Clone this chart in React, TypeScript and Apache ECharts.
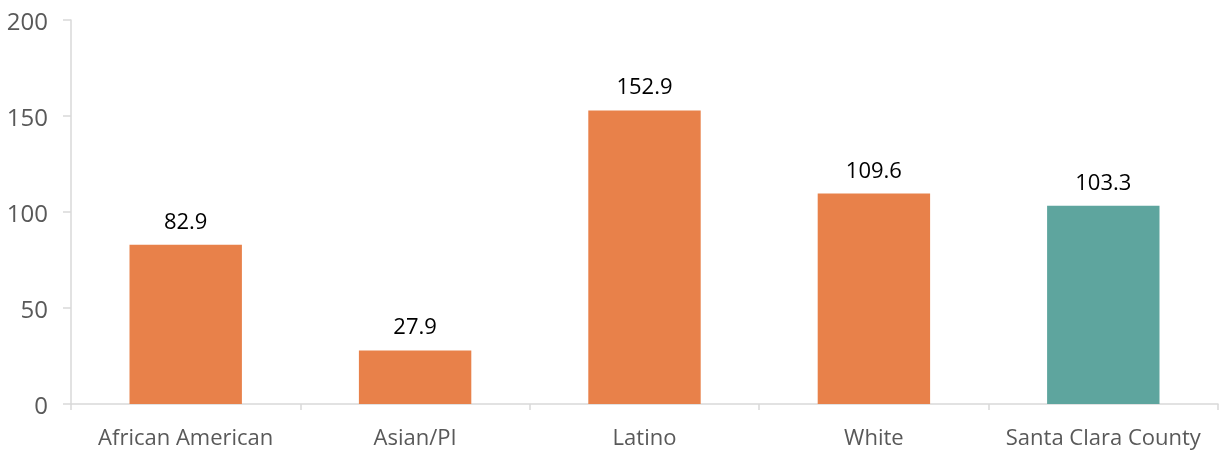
import React, { useEffect, useRef } from "react";
import * as echarts from "echarts";

const categories = ["African American", "Asian/PI", "Latino", "White", "Santa Clara County"];
const values = [82.9, 27.9, 152.9, 109.6, 103.3];
const barColors = ["#E8814A", "#E8814A", "#E8814A", "#E8814A", "#5EA59E"];
const yTicks = { min: 0, max: 200, interval: 50 };

export default function App() {
  const ref = useRef<HTMLDivElement>(null);
  useEffect(() => {
    if (!ref.current) return;
    const chart = echarts.init(ref.current, null, { renderer: "svg" });
    chart.setOption({
      animation: false,
      textStyle: { fontFamily: "Open Sans" },
      grid: { left: 71, right: 6, top: 20, bottom: 48, containLabel: false },
      xAxis: {
        type: "category",
        data: categories,
        axisLine: { show: true, lineStyle: { color: "#D9D9D9", width: 1.5 } },
        axisTick: { show: true, interval: 0, alignWithLabel: false, length: 6, lineStyle: { color: "#D9D9D9", width: 1.5 } },
        axisLabel: { color: "#595959", fontSize: 22, margin: 21, interval: 0, fontFamily: "Open Sans" },
      },
      yAxis: {
        type: "value",
        min: yTicks.min,
        max: yTicks.max,
        interval: yTicks.interval,
        splitLine: { show: false },
        axisLine: { show: true, lineStyle: { color: "#D9D9D9", width: 1.5 } },
        axisTick: { show: true, length: 8, lineStyle: { color: "#D9D9D9", width: 1.5 } },
        axisLabel: { color: "#595959", fontSize: 24, margin: 23, fontFamily: "Open Sans" },
      },
      series: [
        {
          type: "bar",
          barWidth: "49%",
          data: values.map((v, i) => ({ value: v, itemStyle: { color: barColors[i] } })),
          label: {
            show: true,
            position: "top",
            distance: 14,
            color: "#000000",
            fontSize: 22,
            fontFamily: "Open Sans",
            formatter: (p: any) => p.value.toFixed(1),
          },
        },
      ],
    });
    return () => chart.dispose();
  }, []);
  return (
    <div
      ref={ref}
      style={{ position: "fixed", left: 0, top: 0, width: 1224, height: 452 }}
    />
  );
}
